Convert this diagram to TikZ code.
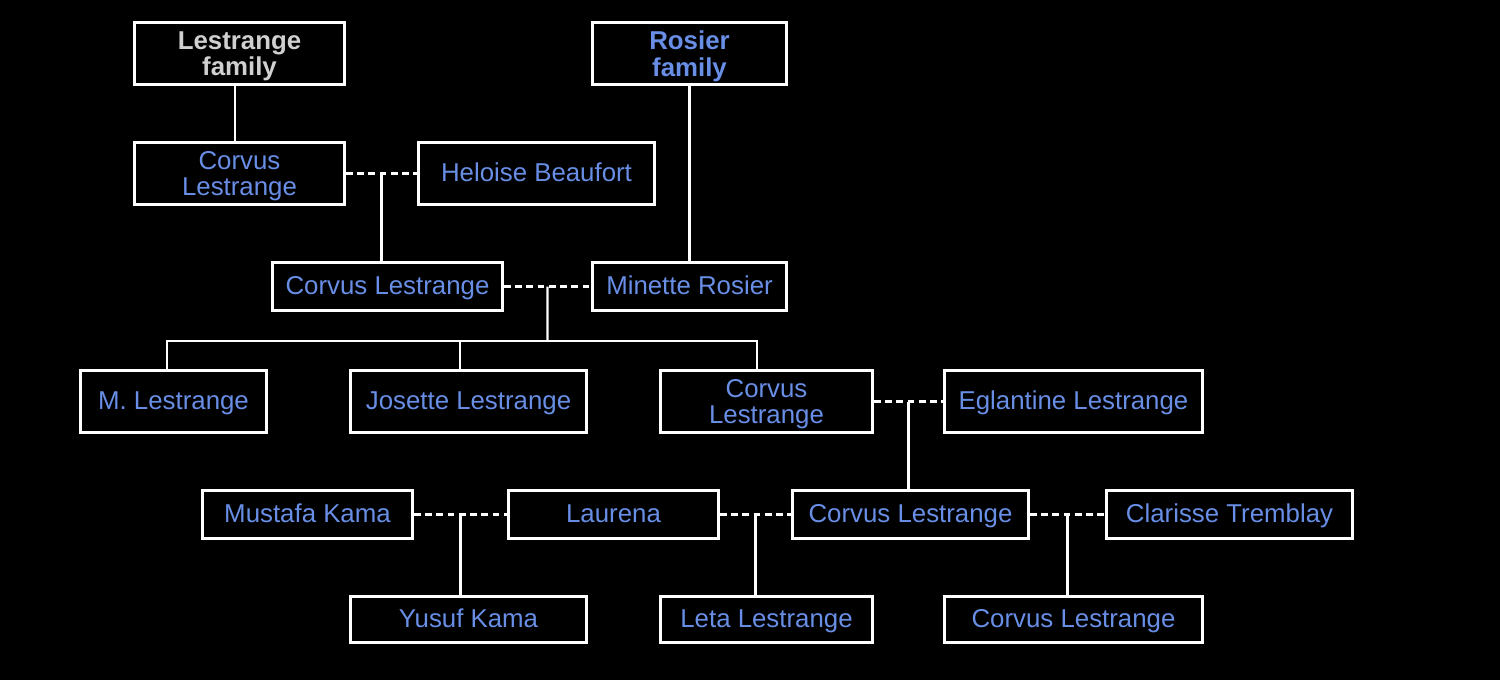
\documentclass[tikz,border=0pt]{standalone}
\usepackage{fontspec}
\setmainfont{Liberation Sans}
\usepackage{tikz}
\usetikzlibrary{positioning}

\definecolor{nameblue}{RGB}{104,142,230}
\definecolor{famgray}{RGB}{208,208,208}

\begin{document}
\begin{tikzpicture}[x=0.02cm,y=-0.02cm,
	person/.style={draw=white, line width=1.7pt, fill=black, text=nameblue,
		align=center, inner sep=0pt, minimum height=0.96cm,
		text height=1.1em, text depth=0.15em,
		font=\fontsize{14.7}{15.2}\selectfont},
	twoline/.style={text height={}, text depth=0pt},
	tall/.style={minimum height=1.24cm},
	low/.style={minimum height=0.92cm},
	family/.style={person, tall, twoline, font=\bfseries\fontsize{14.7}{15.2}\selectfont},
	descent/.style={draw=white, line width=1.4pt},
	marriage/.style={draw=white, line width=1.5pt, dash pattern=on 3.8pt off 2.6pt}]
	\fill[black] (0,0) rectangle (1500,680);
	\useasboundingbox (0,0) rectangle (1500,680);
	% families
	\node[family, text=famgray, minimum width=4.20cm] (famL) at (239.5,53.5) {Lestrange\\family};
	\node[family, minimum width=3.88cm] (famR) at (689.5,53.5) {Rosier\\family};
	% generations
	\node[person, tall, twoline, minimum width=4.20cm] (corvA) at (239.5,173.5) {Corvus\\Lestrange};
	\node[person, tall, minimum width=4.72cm] (heloise) at (536.5,173.5) {Heloise Beaufort};
	\node[person, minimum width=4.60cm] (corvB) at (387.5,286.5) {Corvus Lestrange};
	\node[person, minimum width=3.88cm] (minette) at (689.5,286.5) {Minette Rosier};
	\node[person, tall, minimum width=3.72cm] (mlest) at (173.5,401.5) {M. Lestrange};
	\node[person, tall, minimum width=4.72cm] (josette) at (468.5,401.5) {Josette Lestrange};
	\node[person, tall, twoline, minimum width=4.24cm] (corvC) at (766.5,401.5) {Corvus\\Lestrange};
	\node[person, tall, minimum width=5.16cm] (eglantine) at (1073.5,401.5) {Eglantine Lestrange};
	\node[person, minimum width=4.20cm] (mustafa) at (307.5,514.5) {Mustafa Kama};
	\node[person, minimum width=4.20cm] (laurena) at (613.5,514.5) {Laurena};
	\node[person, minimum width=4.72cm] (corvD) at (910.5,514.5) {Corvus Lestrange};
	\node[person, minimum width=4.92cm] (clarisse) at (1229.5,514.5) {Clarisse Tremblay};
	\node[person, low, minimum width=4.72cm] (yusuf) at (468.5,619.5) {Yusuf Kama};
	\node[person, low, minimum width=4.24cm] (leta) at (766.5,619.5) {Leta Lestrange};
	\node[person, low, minimum width=5.16cm] (corvE) at (1073.5,619.5) {Corvus Lestrange};

	% marriages
	\draw[marriage] (corvA) -- coordinate (mAH) (heloise);
	\draw[marriage] (corvB) -- coordinate (mBM) (minette);
	\draw[marriage] (corvC) -- coordinate (mCE) (eglantine);
	\draw[marriage] (mustafa) -- coordinate (mML) (laurena);
	\draw[marriage] (laurena) -- coordinate (mLC) (corvD);
	\draw[marriage] (corvD) -- coordinate (mDC) (clarisse);

	% descent
	\draw[descent] ([xshift=-0.09cm]famL.south) -- ([xshift=-0.09cm]corvA.north);
	\draw[descent] (famR) -- (minette);
	\draw[descent] (mAH) -- (mAH |- corvB.north);
	\coordinate (bus) at (547.5,341);
	\draw[descent] (mBM) -- (bus);
	\draw[descent] (bus) -| ([xshift=-0.13cm]mlest.north);
	\draw[descent] (bus) -| ([xshift=-0.17cm]josette.north);
	\draw[descent] (bus) -| ([xshift=-0.19cm]corvC.north);
	\draw[descent] (mCE) -- (mCE |- corvD.north);
	\draw[descent] (mML) -- (mML |- yusuf.north);
	\draw[descent] (mLC) -- (mLC |- leta.north);
	\draw[descent] (mDC) -- (mDC |- corvE.north);
\end{tikzpicture}
\end{document}
